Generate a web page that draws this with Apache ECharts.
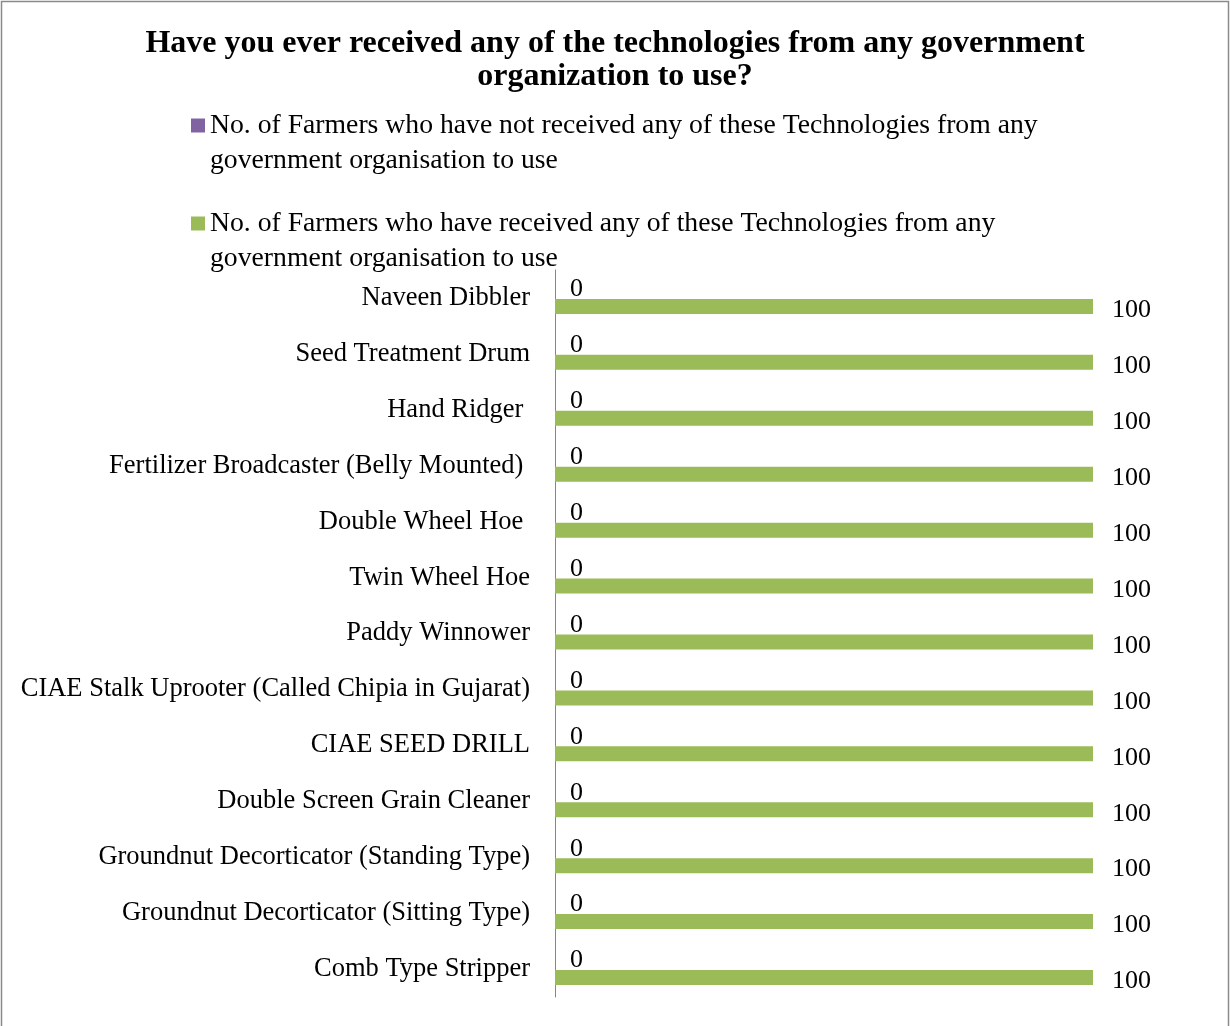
<!DOCTYPE html>
<html>
<head>
<meta charset="utf-8">
<script src="https://cdn.jsdelivr.net/npm/echarts@6/dist/echarts.min.js"></script>
<style>
html, body { margin: 0; padding: 0; background: #fff; }
#chart { width: 1230px; height: 1026px; }
</style>
</head>
<body>
<div id="chart"></div>
<script>
const categories = [
  "Naveen Dibbler",
  "Seed Treatment Drum",
  "Hand Ridger ",
  "Fertilizer Broadcaster (Belly Mounted) ",
  "Double Wheel Hoe ",
  "Twin Wheel Hoe",
  "Paddy Winnower",
  "CIAE Stalk Uprooter (Called Chipia in Gujarat)",
  "CIAE SEED DRILL",
  "Double Screen Grain Cleaner",
  "Groundnut Decorticator (Standing Type)",
  "Groundnut Decorticator (Sitting Type)",
  "Comb Type Stripper"
];
const notReceivedName = "No. of Farmers who have not received any of these Technologies from any government organisation to use";
const receivedName = "No. of Farmers who have received any of these Technologies from any government organisation to use";
const notReceived = [0, 0, 0, 0, 0, 0, 0, 0, 0, 0, 0, 0, 0];
const received = [100, 100, 100, 100, 100, 100, 100, 100, 100, 100, 100, 100, 100];
const titleText = "Have you ever received any of the technologies from any government\norganization to use?";

const FONT = "'Liberation Serif', 'Times New Roman', serif";
const chart = echarts.init(document.getElementById('chart'));
chart.setOption({
  backgroundColor: '#ffffff',
  animation: false,
  graphic: [{
    type: 'rect',
    shape: { x: 1.5, y: 1.5, width: 1227, height: 1040 },
    style: { fill: 'none', stroke: '#8a8a8a', lineWidth: 1.5 },
    silent: true, z: 100
  }],
  title: {
    text: titleText,
    left: 'center',
    top: 27,
    padding: 0,
    textStyle: { fontFamily: FONT, fontSize: 32, fontWeight: 'bold', color: '#000', lineHeight: 33 }
  },
  legend: {
    orient: 'vertical',
    left: 191,
    top: 73,
    padding: 0,
    itemGap: -7,
    itemWidth: 14,
    itemHeight: 14,
    icon: 'rect',
    data: [notReceivedName, receivedName],
    formatter: function (name) { return '\n' + name.replace(' government', '\ngovernment'); },
    textStyle: { fontFamily: FONT, fontSize: 27.7, color: '#000', lineHeight: 35 }
  },
  grid: { left: 555, right: 137, top: 270, bottom: 29, containLabel: false },
  xAxis: { type: 'value', min: 0, max: 100, show: false },
  yAxis: {
    type: 'category',
    data: categories,
    inverse: true,
    axisTick: { show: false },
    axisLine: { show: true, lineStyle: { color: '#868686', width: 1 } },
    axisLabel: { fontFamily: FONT, fontSize: 26.5, color: '#000', margin: 25 }
  },
  series: [
    {
      name: notReceivedName,
      type: 'bar',
      data: notReceived,
      barWidth: 15,
      barGap: '13%',
      itemStyle: { color: '#8064A2' },
      label: { show: true, position: 'right', distance: 15, fontFamily: FONT, fontSize: 26, color: '#000' }
    },
    {
      name: receivedName,
      type: 'bar',
      data: received,
      barWidth: 15,
      barGap: '13%',
      itemStyle: { color: '#9BBB59' },
      label: { show: true, position: 'right', distance: 19, offset: [0, 4], fontFamily: FONT, fontSize: 26, color: '#000' }
    }
  ]
});
</script>
</body>
</html>
